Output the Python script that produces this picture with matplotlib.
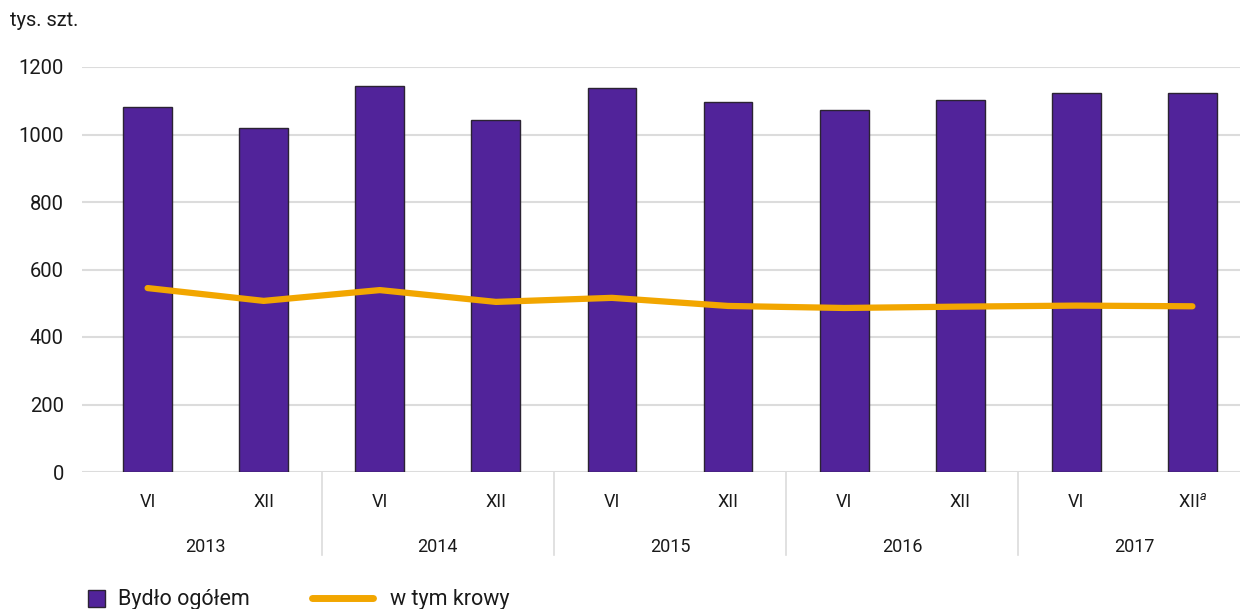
import matplotlib
matplotlib.use("Agg")
import matplotlib.pyplot as plt
import matplotlib.transforms as mtransforms
from matplotlib.patches import Rectangle
from matplotlib.lines import Line2D

# ---- data ----
years = ["2013", "2014", "2015", "2016", "2017"]
halves = ["VI", "XII", "VI", "XII", "VI", "XII", "VI", "XII", "VI", "XII$^{a}$"]
bydlo = [1081, 1019, 1144, 1043, 1138, 1096, 1073, 1102, 1123, 1123]
krowy = [545, 507, 539, 504, 516, 492, 486, 490, 493, 491]
yticks = [0, 200, 400, 600, 800, 1000, 1200]

PURPLE = "#51239A"
ORANGE = "#F2A600"
GRID = "#DCDCDC"
TXT = "#1a1a1a"
FONT = "Roboto"

plt.rcParams["font.family"] = [FONT, "DejaVu Sans"]
plt.rcParams["mathtext.fontset"] = "custom"
plt.rcParams["mathtext.rm"] = FONT
plt.rcParams["mathtext.it"] = FONT + ":italic"

W, H = 1240, 609
fig = plt.figure(figsize=(W / 100, H / 100), dpi=100)
ax = fig.add_axes([82 / W, (H - 472) / H, (1240 - 82) / W, (472 - 67) / H])

x = list(range(len(bydlo)))
ax.bar(x, bydlo, width=0.42, color=PURPLE, edgecolor="#2b2333", linewidth=1.0, zorder=2)
ax.plot(x, krowy, color=ORANGE, linewidth=4.5, solid_capstyle="round", solid_joinstyle="round", zorder=3)

ax.set_xlim(-0.565, 9.41)
ax.set_ylim(0, 1200)
ax.set_yticks(yticks)
ax.set_yticklabels([str(v) for v in yticks], fontsize=14.5, color=TXT)
ax.tick_params(axis="y", length=0, pad=13)
ax.set_xticks([])
for s in ax.spines.values():
    s.set_visible(False)
ax.yaxis.grid(True, color=GRID, linewidth=1.5, zorder=0)
ax.set_axisbelow(True)

trans = mtransforms.blended_transform_factory(ax.transData, ax.transAxes)
px = 1 / (472 - 67)
for i, lab in enumerate(halves):
    ax.text(i, -30 * px, lab, transform=trans, ha="center", va="center",
            fontsize=13, color=TXT)
for j, yr in enumerate(years):
    ax.text(2 * j + 0.5, -75 * px, yr, transform=trans, ha="center", va="center",
            fontsize=13, color=TXT)
for j in range(1, len(years)):
    ax.plot([2 * j - 0.5, 2 * j - 0.5], [0, -83 * px], transform=trans,
            color=GRID, linewidth=1.2, clip_on=False, zorder=1)

fig.text(10 / W, 1 - 21 / H, "tys. szt.", fontsize=14.5, color=TXT, ha="left", va="center")

# legend
fig.patches.append(Rectangle((88 / W, (H - 607) / H), 17 / W, 17 / H,
                             transform=fig.transFigure, facecolor=PURPLE,
                             edgecolor="#2b2333", linewidth=1.0))
fig.text(118 / W, 1 - 600 / H, "Bydło ogółem", fontsize=15.5, color=TXT, ha="left", va="center")
fig.lines.append(Line2D([312 / W, 373 / W], [1 - 598 / H, 1 - 598 / H],
                        transform=fig.transFigure, color=ORANGE, linewidth=5,
                        solid_capstyle="round"))
fig.text(390 / W, 1 - 600 / H, "w tym krowy", fontsize=15.5, color=TXT, ha="left", va="center")

fig.savefig("out.png", dpi=100)
